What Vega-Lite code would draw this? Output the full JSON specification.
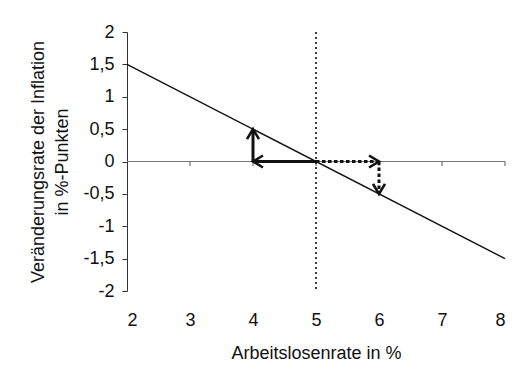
{
  "$schema": "https://vega.github.io/schema/vega-lite/v6.json",
  "width": 378,
  "height": 259,
  "autosize": {"type": "none"},
  "padding": {"left": 127, "top": 32, "right": 22, "bottom": 83},
  "background": "white",
  "config": {
    "view": {"stroke": null},
    "font": "Liberation Sans",
    "axis": {"grid": false, "labelFont": "Liberation Sans", "titleFont": "Liberation Sans", "labelFontSize": 18, "titleFontSize": 18, "titleFontWeight": "normal", "labelColor": "#111", "titleColor": "#111"}
  },
  "datasets": {
    "curve": [{"x": 2, "y": 1.5}, {"x": 8, "y": -1.5}],
    "vline": [{"x": 5, "y": 2, "y2": -2}],
    "zero": [{"x": 2, "x2": 8, "y": 0}],
    "ticks": [{"x": 3, "y": 0, "y2": -0.07}, {"x": 4, "y": 0, "y2": -0.07}, {"x": 5, "y": 0, "y2": -0.07}, {"x": 6, "y": 0, "y2": -0.07}, {"x": 7, "y": 0, "y2": -0.07}, {"x": 8, "y": 0, "y2": -0.07}],
    "shafts": [
      {"x": 5, "y": 0, "x2": 4, "y2": 0, "kind": "solid"},
      {"x": 4, "y": 0, "x2": 4, "y2": 0.5, "kind": "solid"},
      {"x": 5, "y": 0, "x2": 6, "y2": 0, "kind": "dotted"},
      {"x": 6, "y": 0, "x2": 6, "y2": -0.5, "kind": "dotted"}
    ],
    "heads": [
      {"x": 4, "y": 0.5, "dir": "up"},
      {"x": 4, "y": 0, "dir": "left"},
      {"x": 6, "y": 0, "dir": "right"},
      {"x": 6, "y": -0.5, "dir": "down"}
    ]
  },
  "encoding": {
    "x": {"field": "x", "type": "quantitative", "scale": {"domain": [2, 8], "nice": false, "zero": false},
      "axis": {"values": [2, 3, 4, 5, 6, 7, 8], "domain": false, "ticks": false, "labelPadding": 20, "title": "Arbeitslosenrate in %", "titlePadding": 15}},
    "y": {"field": "y", "type": "quantitative", "scale": {"domain": [-2, 2], "nice": false, "zero": false},
      "axis": {"values": [-2, -1.5, -1, -0.5, 0, 0.5, 1, 1.5, 2], "domainColor": "#333", "tickColor": "#333", "tickSize": 5, "labelPadding": 8,
        "labelExpr": "replace(replace(format(datum.value, '~g'), '.', ','), '−', '-')",
        "title": ["Veränderungsrate der Inflation", "in %-Punkten"], "titleLineHeight": 24, "titlePadding": 11}}
  },
  "layer": [
    {"data": {"name": "zero"}, "mark": {"type": "rule", "color": "#777", "strokeWidth": 1}, "encoding": {"x2": {"field": "x2"}}},
    {"data": {"name": "ticks"}, "mark": {"type": "rule", "color": "#555", "strokeWidth": 1}, "encoding": {"y2": {"field": "y2"}}},
    {"data": {"name": "vline"}, "mark": {"type": "rule", "color": "#111", "strokeWidth": 1.6, "strokeDash": [2, 3]}, "encoding": {"y2": {"field": "y2"}}},
    {"data": {"name": "curve"}, "mark": {"type": "line", "color": "#111", "strokeWidth": 1.4}},
    {"data": {"name": "shafts"}, "mark": {"type": "rule", "color": "#111", "strokeWidth": 3, "strokeCap": "butt"},
      "encoding": {"x2": {"field": "x2"}, "y2": {"field": "y2"},
        "strokeDash": {"field": "kind", "type": "nominal", "scale": {"domain": ["solid", "dotted"], "range": [[1, 0], [3.5, 2.5]]}, "legend": null}}},
    {"data": {"name": "heads"}, "transform": [{"filter": "datum.dir == 'up'"}],
      "mark": {"type": "point", "shape": "M -0.6 1 L 0 0 L 0.6 1", "filled": false, "stroke": "#111", "strokeWidth": 2.6, "size": 400, "opacity": 1, "angle": 0}},
    {"data": {"name": "heads"}, "transform": [{"filter": "datum.dir == 'right'"}],
      "mark": {"type": "point", "shape": "M -0.6 1 L 0 0 L 0.6 1", "filled": false, "stroke": "#111", "strokeWidth": 2.6, "size": 400, "opacity": 1, "angle": 90}},
    {"data": {"name": "heads"}, "transform": [{"filter": "datum.dir == 'down'"}],
      "mark": {"type": "point", "shape": "M -0.6 1 L 0 0 L 0.6 1", "filled": false, "stroke": "#111", "strokeWidth": 2.6, "size": 400, "opacity": 1, "angle": 180}},
    {"data": {"name": "heads"}, "transform": [{"filter": "datum.dir == 'left'"}],
      "mark": {"type": "point", "shape": "M -0.6 1 L 0 0 L 0.6 1", "filled": false, "stroke": "#111", "strokeWidth": 2.6, "size": 400, "opacity": 1, "angle": 270}}
  ]
}
